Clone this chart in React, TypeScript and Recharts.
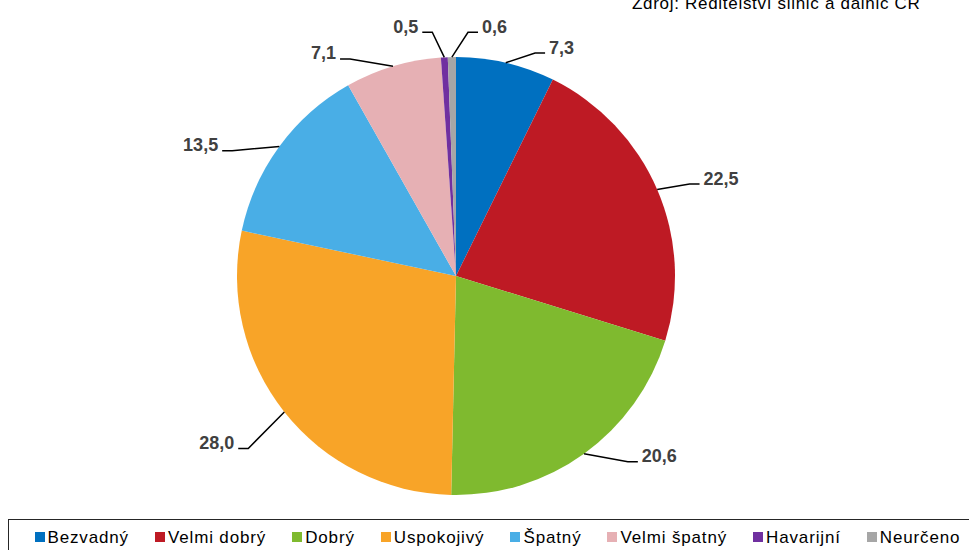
import React from 'react';
import { PieChart, Pie, Cell, Legend } from 'recharts';

const categories = ['Bezvadný', 'Velmi dobrý', 'Dobrý', 'Uspokojivý', 'Špatný', 'Velmi špatný', 'Havarijní', 'Neurčeno'];
const values = [7.3, 22.5, 20.6, 28.0, 13.5, 7.1, 0.5, 0.6];
const colors = ['#0070C0', '#BE1A24', '#7FBA2F', '#F8A428', '#49AEE6', '#E6B0B4', '#7030A0', '#A6A6A6'];
const sourceText = 'Zdroj: Ředitelství silnic a dálnic ČR';

// label leader layout: [clockwise angle nudge (deg), extra radius (px)]
const labelLayout: [number, number][] = [
  [6.4, 17.6],
  [1.8, 32],
  [-7.0, 34],
  [-1.3, 51],
  [-7.0, 37.5],
  [-9.3, 22.5],
  [-2.5, 26],
  [3.9, 25],
];

const data = categories.map((name, i) => ({ name, value: values[i] }));

const FONT = '"Liberation Sans", Arial, sans-serif';
const RAD = Math.PI / 180;

const fmt = (v: number) => v.toFixed(1).replace('.', ',');

const renderLabel = (props: any) => {
  const { cx, cy, midAngle, outerRadius, index, value } = props;
  const [dA, dR] = labelLayout[index];
  const sx = cx + outerRadius * Math.cos(-midAngle * RAD);
  const sy = cy + outerRadius * Math.sin(-midAngle * RAD);
  const a1 = midAngle - dA;
  const r1 = outerRadius + dR;
  const ex = cx + r1 * Math.cos(-a1 * RAD);
  const ey = cy + r1 * Math.sin(-a1 * RAD);
  const right = ex >= cx;
  const hx = ex + (right ? 10 : -10);
  return (
    <g key={`lbl-${index}`}>
      <polyline points={`${sx},${sy} ${ex},${ey} ${hx},${ey}`} stroke="#000" strokeWidth={1.5} fill="none" />
      <text
        x={hx + (right ? 4 : -4)}
        y={ey + 0.5}
        textAnchor={right ? 'start' : 'end'}
        fill="#404040"
        fontFamily={FONT}
        fontSize={18}
        fontWeight="bold"
      >
        {fmt(value)}
      </text>
    </g>
  );
};

const LegendContent = () => (
  <div
    style={{
      boxSizing: 'border-box',
      width: 1000,
      height: 40,
      borderTop: '1.5px solid #262626',
      borderLeft: '1.5px solid #262626',
      display: 'flex',
      alignItems: 'flex-start',
      paddingLeft: 25.5,
      paddingTop: 8.5,
      fontFamily: FONT,
      fontSize: 17,
      letterSpacing: 0.85,
      lineHeight: '17px',
      color: '#000',
      whiteSpace: 'nowrap',
    }}
  >
    {categories.map((c, i) => (
      <div key={c} style={{ display: 'flex', alignItems: 'center', marginRight: 26 }}>
        <span style={{ display: 'inline-block', width: 10, height: 10, background: colors[i], marginRight: 3 }} />
        <span>{c}</span>
      </div>
    ))}
  </div>
);

export default function App() {
  return (
    <div style={{ position: 'absolute', left: 0, top: 0, width: 969, height: 550, overflow: 'hidden', background: '#fff' }}>
      <div
        style={{
          position: 'absolute',
          left: 632,
          top: -5,
          fontFamily: FONT,
          fontSize: 17,
          letterSpacing: 0.7,
          lineHeight: '17px',
          color: '#000',
          whiteSpace: 'nowrap',
        }}
      >
        {sourceText}
      </div>
      <PieChart width={969} height={550} margin={{ top: 0, right: 0, bottom: 0, left: 0 }}>
        <Pie
          data={data}
          dataKey="value"
          nameKey="name"
          cx={456}
          cy={276}
          outerRadius={219}
          startAngle={90}
          endAngle={-270}
          stroke="none"
          label={renderLabel}
          labelLine={false}
          isAnimationActive={false}
        >
          {data.map((d, i) => (
            <Cell key={d.name} fill={colors[i]} />
          ))}
        </Pie>
        <Legend
          content={<LegendContent />}
          wrapperStyle={{ position: 'absolute', left: 8, top: 519, bottom: 'auto', width: 1000, height: 40 }}
        />
      </PieChart>
    </div>
  );
}
